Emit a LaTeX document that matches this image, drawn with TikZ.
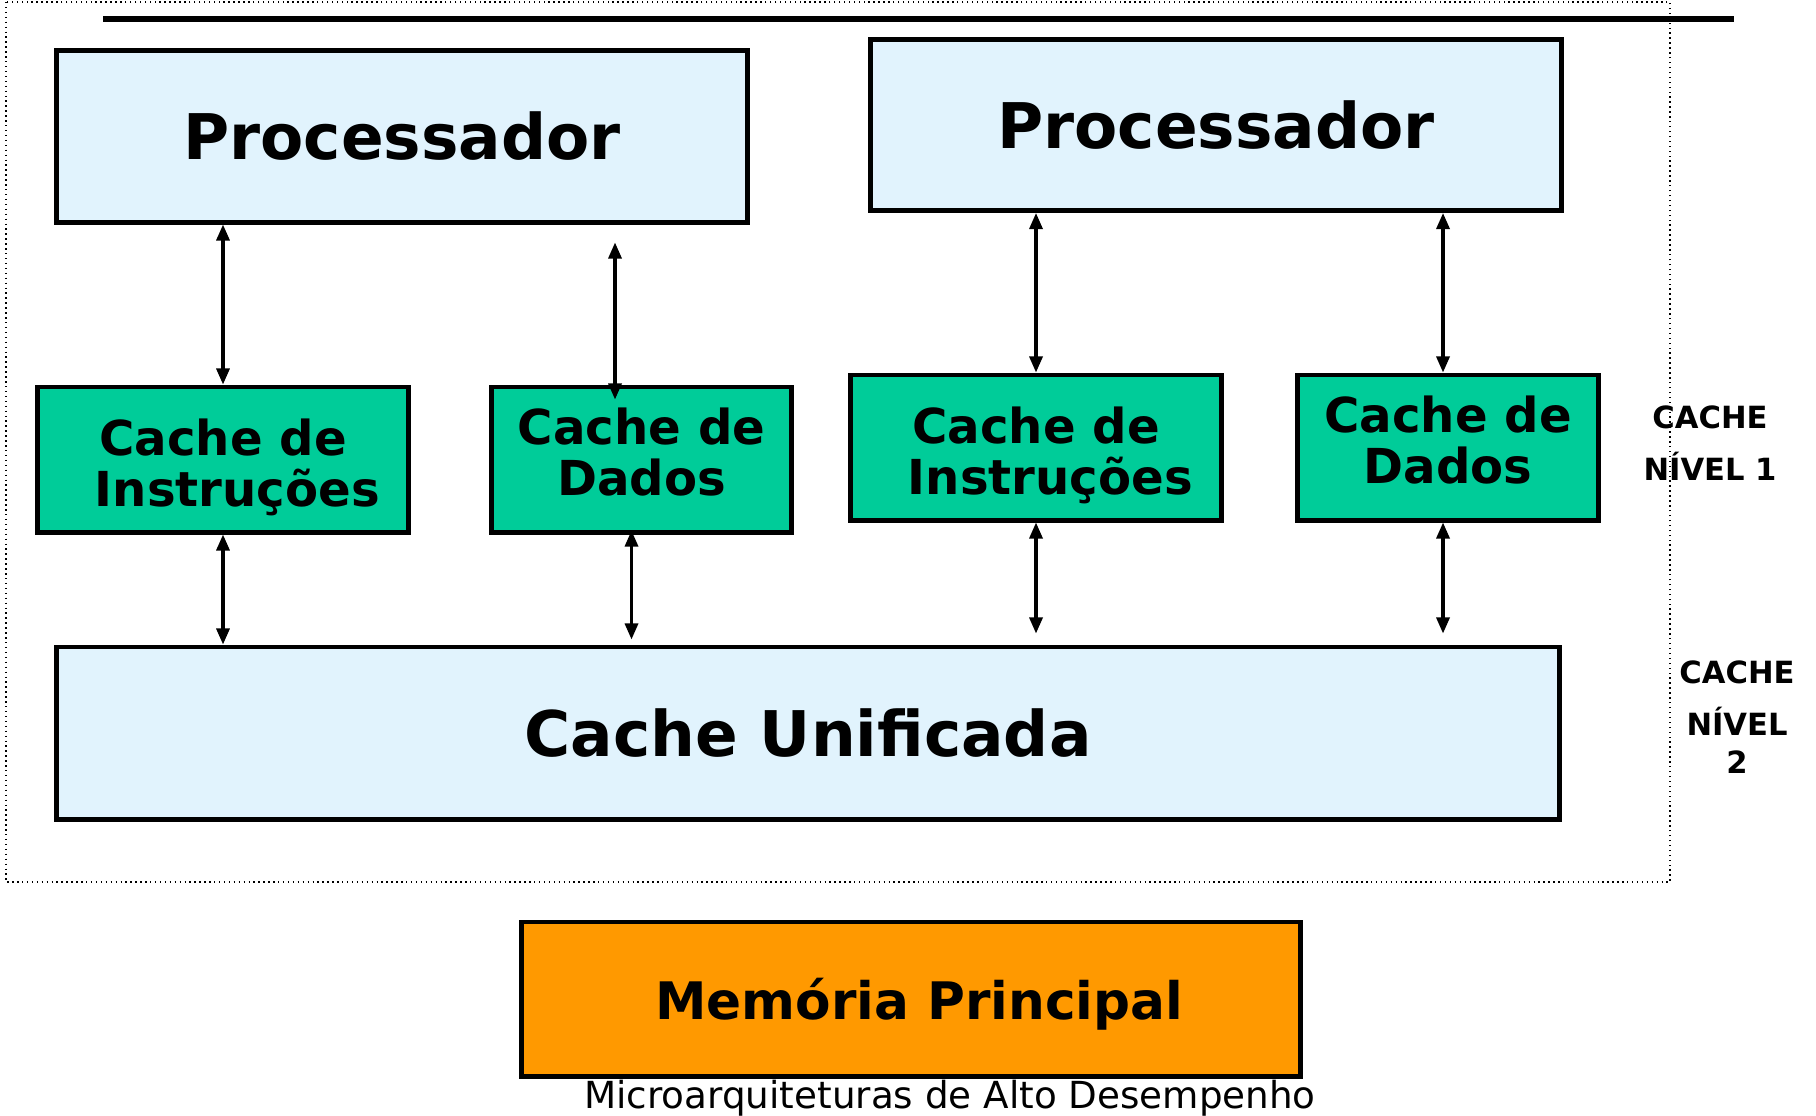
\documentclass[tikz,border=0pt]{standalone}
\usepackage{fontspec}
\setmainfont{DejaVu Sans}
\usetikzlibrary{arrows.meta,calc}
\definecolor{procblue}{HTML}{E1F3FD}
\definecolor{cachegreen}{HTML}{00CC99}
\definecolor{memorange}{HTML}{FF9900}
\tikzset{
  blk/.style={draw, rectangle, line width=1.4pt, align=center, inner sep=0pt},
  pblk/.style={blk, fill=procblue, minimum width=6.9cm, minimum height=1.71cm, font=\bfseries\fontsize{17.9}{20}\selectfont},
  cblk/.style={blk, fill=cachegreen, minimum height=1.45cm, font=\bfseries\fontsize{13.7}{14.5}\selectfont},
  mblk/.style={blk, fill=memorange, minimum width=7.78cm, minimum height=1.54cm, font=\bfseries\fontsize{14.7}{17}\selectfont},
  lvl/.style={align=center, font=\bfseries\fontsize{8.7}{14.8}\selectfont},
  arr/.style={{Triangle[length=1.6mm,width=1.3mm]}-{Triangle[length=1.6mm,width=1.3mm]}, line width=0.9pt},
}
\begin{document}
\begin{tikzpicture}[x=0.01cm, y=-0.01cm]
\useasboundingbox (0,0) rectangle (1816,1115);

\draw[densely dotted, line width=0.4pt] (6,2) rectangle (1670,882);
\draw[line width=1.7pt] (103,19) -- (1734,19);

\node[pblk] (procA) at (402,136.5) {Processador};
\node[pblk] (procB) at (1216,125) {Processador};

\node[cblk, minimum width=3.7cm] (icA) at (223,459.5) {\rule{0pt}{15pt}Cache de\\\hspace*{0.6em}Instruções};
\node[cblk, minimum width=2.99cm] (dcA) at (641.5,459.5) {Cache de\\Dados\rule[-4.5pt]{0pt}{0pt}};
\node[cblk, minimum width=3.7cm] (icB) at (1036,447.5) {\rule{0pt}{15pt}Cache de\\\hspace*{0.6em}Instruções};
\node[cblk, minimum width=3cm] (dcB) at (1448,447.5) {Cache de\\Dados\rule[-4.5pt]{0pt}{0pt}};

\node[pblk, minimum width=15.02cm, minimum height=1.72cm] (unif) at (808,733) {Cache Unificada};
\node[mblk, text depth=0pt] (mem) at (911,999) {\hspace*{4.6pt}Memória Principal};

\node[lvl] (lvA) at (1710,443) {CACHE\\NÍVEL 1};
\node[lvl] (lvB) at (1737,717) {CACHE\\NÍVEL\\[-4pt]2};
\node[anchor=base, font=\fontsize{10.6}{12}\selectfont] (foot) at (950,1108) {Microarquiteturas de Alto Desempenho};

\draw[arr] (icA.north) -- (icA.north |- procA.south);
\draw[arr] ($(dcA.north)+(-26.5,15)$) -- ($(dcA.north |- procA.south)+(-26.5,18)$);
\draw[arr] (icB.north) -- (icB.north |- procB.south);
\draw[arr] ($(dcB.north)+(-5,0)$) -- ($(dcB.north |- procB.south)+(-5,0)$);

\draw[arr] (icA.south) -- (icA.south |- unif.north);
\draw[arr] ($(dcA.south)+(-10,-4)$) -- ($(dcA.south |- unif.north)+(-10,-5)$);
\draw[arr] (icB.south) -- ($(icB.south |- unif.north)+(0,-11)$);
\draw[arr] ($(dcB.south)+(-5,0)$) -- ($(dcB.south |- unif.north)+(-5,-11)$);

\end{tikzpicture}
\end{document}
